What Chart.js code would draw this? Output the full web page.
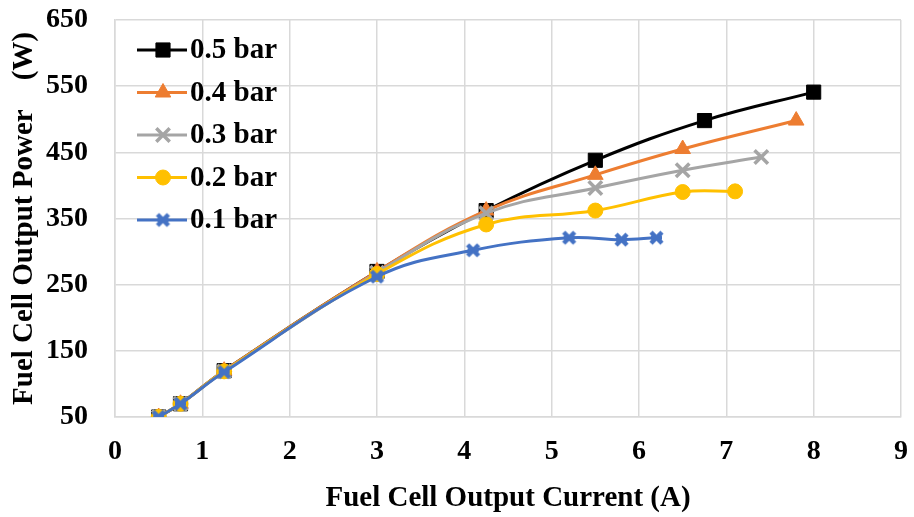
<!DOCTYPE html>
<html>
<head>
<meta charset="utf-8">
<script src="https://cdn.jsdelivr.net/npm/chart.js@4.4.1/dist/chart.umd.min.js"></script>
<style>
  html, body { margin: 0; padding: 0; background: #fff; }
  #powerChart { display: block; }
</style>
</head>
<body>
<canvas id="powerChart" width="914" height="517"></canvas>
<script>
// current (A) / power (W) per supply pressure
var current05 = [0.5, 0.75, 1.25, 3, 4.25, 5.5, 6.75, 8];
var power05   = [50, 70, 120, 270, 362, 438, 498, 541];
var current04 = [0.5, 0.75, 1.25, 3, 4.25, 5.5, 6.5, 7.8];
var power04   = [50, 70, 120, 270, 362, 416, 455, 498];
var current03 = [0.5, 0.75, 1.25, 3, 4.25, 5.5, 6.5, 7.4];
var power03   = [50, 70, 119, 268, 358, 396, 423, 443];
var current02 = [0.5, 0.75, 1.25, 3, 4.25, 5.5, 6.5, 7.1];
var power02   = [50, 70, 119, 266, 341, 362, 390, 391];
var current01 = [0.5, 0.75, 1.25, 3, 4.1, 5.2, 5.8, 6.2];
var power01   = [50, 70, 118, 262, 302, 321, 318, 321];

var seriesNames = ['0.5 bar', '0.4 bar', '0.3 bar', '0.2 bar', '0.1 bar'];
var seriesColors = ['#000000', '#ED7D31', '#A5A5A5', '#FFC000', '#4472C4'];
var xTicks = [0, 1, 2, 3, 4, 5, 6, 7, 8, 9];
var yTicks = [50, 150, 250, 350, 450, 550, 650];

var currents = [current05, current04, current03, current02, current01];
var powers = [power05, power04, power03, power02, power01];

var serif = "'Liberation Serif', 'Times New Roman', serif";

// chunky star marker (x with a bar through it)
function starMarker(color) {
    var c = document.createElement('canvas');
    c.width = 17;
    c.height = 17;
    var g = c.getContext('2d');
    g.strokeStyle = color;
    g.lineCap = 'butt';
    g.lineWidth = 4.5;
    g.beginPath();
    g.moveTo(3, 3); g.lineTo(14, 14);
    g.moveTo(3, 14); g.lineTo(14, 3);
    g.stroke();
    g.lineWidth = 4;
    g.beginPath();
    g.moveTo(3, 8.5); g.lineTo(14, 8.5);
    g.stroke();
    return c;
}

var seriesMarkers = ['rect', 'triangle', 'crossRot', 'circle', starMarker('#4472C4')];
var markerRadii = [10, 9, 9.5, 7.5, 8];
var markerBorders = [1, 1, 3.5, 1, 1];

// Excel-style legend inside the plot: line + marker, then the label
var insideLegend = {
    id: 'insideLegend',
    afterDraw: function(chart) {
        var ctx = chart.ctx;
        var area = chart.chartArea;
        ctx.save();
        chart.data.datasets.forEach(function(ds, i) {
            var y = area.top + 30 + i * 42.5;
            var x0 = area.left + 22;
            ctx.strokeStyle = seriesColors[i];
            ctx.lineWidth = 3;
            ctx.beginPath();
            ctx.moveTo(x0, y);
            ctx.lineTo(x0 + 50, y);
            ctx.stroke();
            ctx.fillStyle = seriesColors[i];
            ctx.lineWidth = markerBorders[i];
            Chart.helpers.drawPoint(ctx, {
                pointStyle: seriesMarkers[i],
                radius: markerRadii[i],
                rotation: 0,
                borderWidth: markerBorders[i]
            }, x0 + 26, y);
            ctx.fillStyle = '#000';
            ctx.font = 'bold 29px ' + serif;
            ctx.textAlign = 'left';
            ctx.textBaseline = 'middle';
            ctx.fillText(ds.label, x0 + 53, y + 1);
        });
        ctx.restore();
    }
};

var datasets = seriesNames.map(function(name, i) {
    return {
        label: name,
        data: currents[i].map(function(x, k) { return { x: x, y: powers[i][k] }; }),
        borderColor: seriesColors[i],
        backgroundColor: seriesColors[i],
        borderWidth: 3,
        pointStyle: seriesMarkers[i],
        pointRadius: markerRadii[i],
        pointBorderWidth: markerBorders[i],
        pointBorderColor: seriesColors[i],
        pointBackgroundColor: seriesColors[i],
        tension: 0.4,
        order: seriesNames.length - i
    };
});

new Chart(document.getElementById('powerChart'), {
    type: 'line',
    data: { datasets: datasets },
    plugins: [insideLegend],
    options: {
        responsive: false,
        animation: false,
        layout: { padding: { left: 0, right: 8, top: 20, bottom: 0 } },
        plugins: {
            tooltip: { enabled: false },
            legend: { display: false }
        },
        scales: {
            x: {
                type: 'linear',
                min: 0,
                max: 9,
                afterBuildTicks: function(axis) {
                    axis.ticks = xTicks.map(function(v) { return { value: v }; });
                },
                afterFit: function(axis) {
                    axis.height = 100;
                    axis.paddingLeft = 0;
                    axis.paddingRight = 0;
                },
                grid: { color: '#D9D9D9', lineWidth: 1.5, drawTicks: false },
                border: { color: '#D9D9D9', width: 1.5 },
                ticks: {
                    padding: 18,
                    maxRotation: 0,
                    color: '#000',
                    font: { family: serif, size: 28, weight: 'bold' }
                },
                title: {
                    display: true,
                    text: 'Fuel Cell Output Current (A)',
                    color: '#000',
                    padding: { top: 0, bottom: 1 },
                    font: { family: serif, size: 29, weight: 'bold' }
                }
            },
            y: {
                min: 50,
                max: 650,
                afterBuildTicks: function(axis) {
                    axis.ticks = yTicks.map(function(v) { return { value: v }; });
                },
                afterFit: function(axis) {
                    axis.width = 115;
                    axis.paddingTop = 0;
                    axis.paddingBottom = 0;
                },
                grid: { color: '#D9D9D9', lineWidth: 1.5, drawTicks: false },
                border: { color: '#D9D9D9', width: 1.5 },
                ticks: {
                    padding: 27,
                    color: '#000',
                    font: { family: serif, size: 28, weight: 'bold' }
                },
                title: {
                    display: true,
                    text: 'Fuel Cell Output Power    (W)',
                    color: '#000',
                    padding: { top: 7, bottom: 0 },
                    font: { family: serif, size: 29, weight: 'bold' }
                }
            }
        }
    }
});
</script>
</body>
</html>
